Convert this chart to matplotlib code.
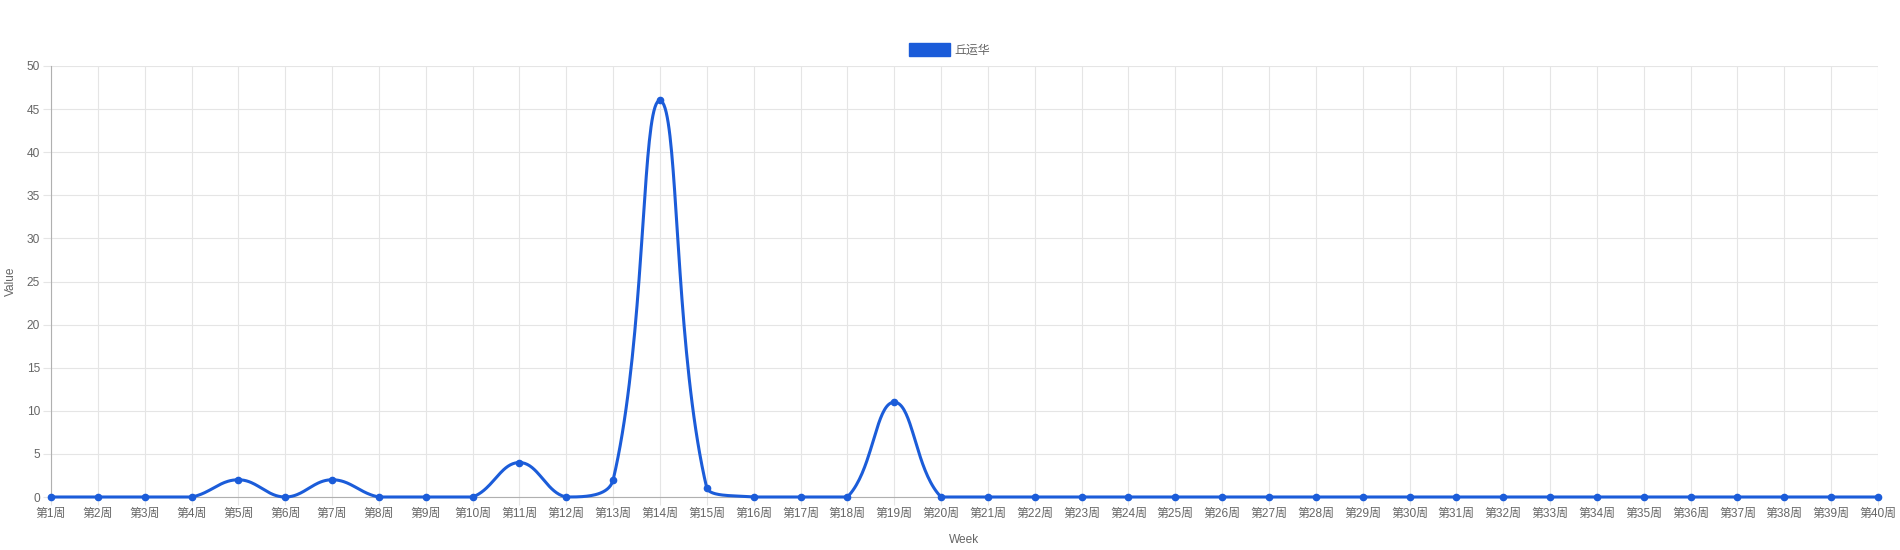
import numpy as np
import matplotlib
matplotlib.use("Agg")
import matplotlib.pyplot as plt
from matplotlib.patches import Patch

plt.rcParams["font.family"] = ["Liberation Sans", "Noto Sans CJK SC", "DejaVu Sans"]

# ====================================================================
# DATA
# ====================================================================
weeks = [f"第{i}周" for i in range(1, 41)]
series_name = "丘运华"
values = [0, 0, 0, 0, 2, 0, 2, 0, 0, 0,
          4, 0, 2, 46, 1, 0, 0, 0, 11, 0,
          0, 0, 0, 0, 0, 0, 0, 0, 0, 0,
          0, 0, 0, 0, 0, 0, 0, 0, 0, 0]
y_max = 50
y_step = 5

line_color = "#1b5cd9"
text_color = "#666666"
grid_color = "#e5e5e5"

# ====================================================================
# LAYOUT (pixels of a 1900 x 550 canvas)
# ====================================================================
W, H = 1900, 550
ax_left, ax_right, ax_top, ax_bottom = 51, 1878, 66, 497


def spline_points(xs, ys, sx, sy, tension=0.4, y_lo=0.0, y_hi=50.0):
    """Chart.js style bezier control points (computed in pixel space, capped to the area)"""
    n = len(xs)
    px = np.asarray(xs, float) * sx
    py = np.asarray(ys, float) * sy
    cp_prev = np.zeros((n, 2))
    cp_next = np.zeros((n, 2))
    for i in range(n):
        p0 = (px[max(i - 1, 0)], py[max(i - 1, 0)])
        p1 = (px[i], py[i])
        p2 = (px[min(i + 1, n - 1)], py[min(i + 1, n - 1)])
        d01 = np.hypot(p1[0] - p0[0], p1[1] - p0[1])
        d12 = np.hypot(p2[0] - p1[0], p2[1] - p1[1])
        s01 = d01 / (d01 + d12) if (d01 + d12) else 0
        s12 = d12 / (d01 + d12) if (d01 + d12) else 0
        fa, fb = tension * s01, tension * s12
        cp_prev[i] = (p1[0] - fa * (p2[0] - p0[0]), p1[1] - fa * (p2[1] - p0[1]))
        cp_next[i] = (p1[0] + fb * (p2[0] - p0[0]), p1[1] + fb * (p2[1] - p0[1]))
    cp_prev /= (sx, sy)
    cp_next /= (sx, sy)
    cp_prev[:, 1] = np.clip(cp_prev[:, 1], y_lo, y_hi)
    cp_next[:, 1] = np.clip(cp_next[:, 1], y_lo, y_hi)

    cx, cy = [], []
    t = np.linspace(0, 1, 40)[:, None]
    for i in range(n - 1):
        P0 = np.array([xs[i], ys[i]], float)
        P1 = cp_next[i]
        P2 = cp_prev[i + 1]
        P3 = np.array([xs[i + 1], ys[i + 1]], float)
        b = ((1 - t) ** 3) * P0 + 3 * ((1 - t) ** 2) * t * P1 + 3 * (1 - t) * t ** 2 * P2 + t ** 3 * P3
        cx.extend(b[:, 0])
        cy.extend(b[:, 1])
    return np.array(cx), np.array(cy)


fig = plt.figure(figsize=(W / 100, H / 100), dpi=100)
ax = fig.add_axes([ax_left / W, 1 - ax_bottom / H,
                   (ax_right - ax_left) / W, (ax_bottom - ax_top) / H])

x = np.arange(len(weeks))
sx = (ax_right - ax_left) / (len(weeks) - 1)
sy = (ax_bottom - ax_top) / y_max
cx, cy = spline_points(x, values, sx, sy, y_lo=0, y_hi=y_max)

ax.plot(cx, cy, color=line_color, linewidth=2.2, solid_capstyle="round", zorder=3, clip_on=False)
ax.plot(x, values, "o", color=line_color, markersize=4.5, zorder=4, clip_on=False)

ax.set_xlim(0, len(weeks) - 1)
ax.set_ylim(0, y_max)
ax.set_xticks(x)
ax.set_xticklabels(weeks)
ax.set_yticks(np.arange(0, y_max + 1, y_step))

ax.grid(True, color=grid_color, linewidth=0.8)
ax.set_axisbelow(True)
for side in ("top", "right"):
    ax.spines[side].set_visible(False)
for side in ("left", "bottom"):
    ax.spines[side].set_color("#b0b0b0")
    ax.spines[side].set_linewidth(0.8)
ax.tick_params(axis="both", colors=text_color, labelsize=8.6, length=6, width=0.8)
ax.tick_params(axis="x", color=grid_color, pad=2)
ax.tick_params(axis="y", color=grid_color, pad=2)

ax.set_xlabel("Week", color=text_color, fontsize=8.6, labelpad=10)
ax.set_ylabel("Value", color=text_color, fontsize=8.6, va="center")
ax.yaxis.set_label_coords((11 - ax_left) / (ax_right - ax_left), 0.5)

handle = Patch(facecolor=line_color, edgecolor=line_color, linewidth=1)
fig.legend([handle], [series_name], loc="center", bbox_to_anchor=(0.5, 1 - 50 / H),
           frameon=False, fontsize=8.6, labelcolor=text_color,
           handlelength=3.4, handleheight=1.2, handletextpad=0.4)

fig.savefig("out.png", dpi=100)
plt.close(fig)
